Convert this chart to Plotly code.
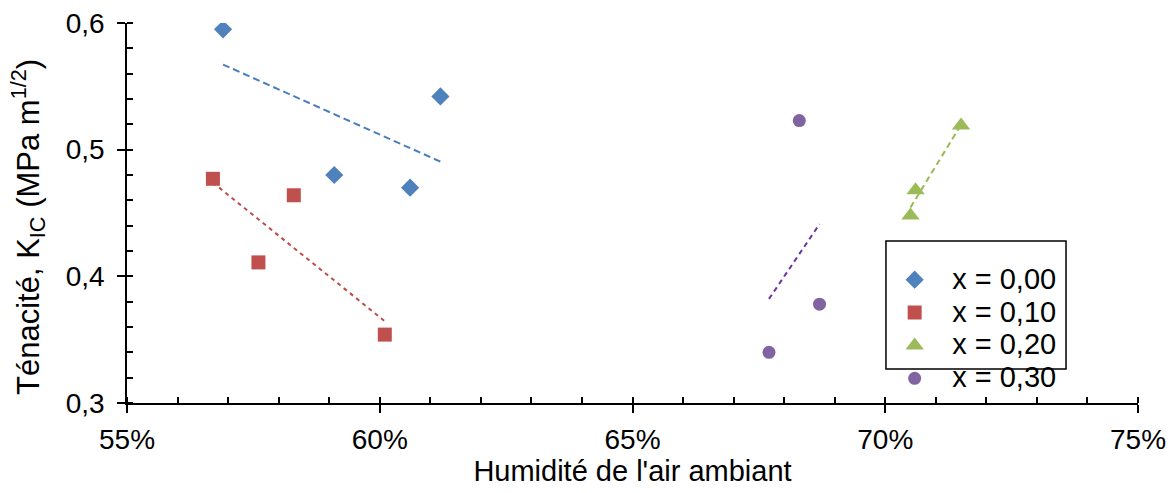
import numpy as np
import plotly.graph_objects as go

# humidity (%) and toughness K_IC (MPa m^1/2) per composition
names = ["x = 0,00", "x = 0,10", "x = 0,20", "x = 0,30"]
hum_000 = [56.9, 61.2, 59.1, 60.6]
kic_000 = [0.595, 0.542, 0.480, 0.470]
hum_010 = [56.7, 57.6, 58.3, 60.1]
kic_010 = [0.477, 0.411, 0.464, 0.354]
hum_020 = [71.5, 70.6, 70.5]
kic_020 = [0.519, 0.468, 0.448]
hum_030 = [68.3, 68.7, 67.7]
kic_030 = [0.523, 0.378, 0.340]

series = [
    (names[0], hum_000, kic_000, "diamond", 14, "#4F81BD", "#4A7EBB", "7px,4px"),
    (names[1], hum_010, kic_010, "square", 14, "#C0504D", "#BE4B48", "4px,4px"),
    (names[2], hum_020, kic_020, "triangle-up", 16, "#9BBB59", "#98B954", "6px,4px"),
    (names[3], hum_030, kic_030, "circle", 13, "#8064A2", "#7030A0", "5px,4px"),
]

fig = go.Figure()

for i, (name, xs, ys, sym, size, col, tcol, dash) in enumerate(series):
    # linear trendline like excel
    a, b = np.polyfit(xs, ys, 1)
    tx = np.array([min(xs), max(xs)])
    fig.add_trace(go.Scatter(x=tx, y=a * tx + b, mode="lines", showlegend=False,
                             line=dict(color=tcol, width=2, dash=dash), hoverinfo="skip"))
    fig.add_trace(go.Scatter(x=xs, y=ys, mode="markers", legendgroup=str(i),
                             name=f"<span style='font-size:29px'>{name}</span>",
                             marker=dict(symbol=sym, size=size, color=col)))

font = "Liberation Sans, Arial, sans-serif"
fig.update_layout(
    width=1174, height=493,
    margin=dict(l=127, r=36, t=23, b=90),
    plot_bgcolor="white", paper_bgcolor="white",
    separators=", ",
    font=dict(family=font, size=28, color="black"),
    legend=dict(x=0.742, y=0.381, xanchor="left", yanchor="top",
                font=dict(size=23), bgcolor="rgba(0,0,0,0)",
                itemwidth=65, tracegroupgap=0, traceorder="normal"),
    shapes=[dict(type="rect", xref="paper", yref="paper", x0=0.7507, x1=0.9288,
                 y0=0.0895, y1=0.4263, line=dict(color="black", width=1.5), layer="above")],
    # y title as annotation so it can sit a little below the plot centre like the original
    annotations=[dict(text="Ténacité, K<sub>IC</sub> (MPa m<sup>1/2</sup>)", textangle=-90,
                      xref="paper", yref="paper", x=-0.098, y=0.463,
                      xanchor="center", yanchor="middle", showarrow=False,
                      font=dict(size=31))],
)
fig.update_xaxes(range=[55, 75], dtick=5, ticksuffix="%", tickformat="d", automargin=False,
                 showgrid=False, zeroline=False, showline=True, linecolor="black", linewidth=1.5,
                 ticks="outside", ticklen=8, tickwidth=1.5, tickcolor="black", ticklabelstandoff=3,
                 minor=dict(dtick=1, ticks="inside", ticklen=6, tickwidth=1.5, tickcolor="black"),
                 title=dict(text="Humidité de l'air ambiant", standoff=6, font=dict(size=29)))
fig.update_yaxes(range=[0.3, 0.6], dtick=0.1, tickformat=".1f", automargin=False,
                 showgrid=False, zeroline=False, showline=True, linecolor="black", linewidth=1.5,
                 ticks="outside", ticklen=8, tickwidth=1.5, tickcolor="black", ticklabelstandoff=7,
                 minor=dict(dtick=0.02, ticks="inside", ticklen=6, tickwidth=1.5, tickcolor="black"))

# page body has a default 8px margin: drop it so the figure sits at 0,0
fig.write_html("out.html", config={"displayModeBar": False},
               post_script="document.body.style.margin='0';")
